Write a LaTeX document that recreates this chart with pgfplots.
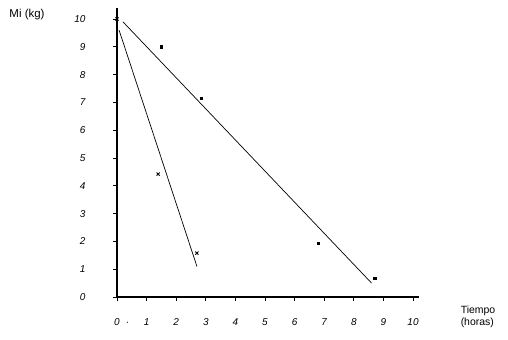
\documentclass[border=0pt]{standalone}
\usepackage{fontspec}
\setmainfont{Liberation Sans}
\usepackage{pgfplots}
\pgfplotsset{compat=1.18}
\begin{document}
\begin{tikzpicture}
\useasboundingbox (-117bp,-43bp) rectangle (391bp,297bp);
\begin{axis}[at={(0,0)}, anchor=origin, scale only axis,
  x=29.6bp, y=27.8bp, xmin=0, xmax=10.2, ymin=0, ymax=10.4,
  axis lines=left, axis line style={line width=1.8bp, -},
  xtick={0,...,10}, ytick={0,...,10},
  xticklabels={0\rlap{\hspace{6bp}·},1,2,3,4,5,6,7,8,9,10},
  tick style={black, line width=0.8bp}, tick align=outside, major tick length=4bp,
  ticklabel style={font=\itshape\fontsize{10}{10}\selectfont},
  /pgf/number format/assume math mode=true,
  yticklabel style={xshift=-24bp}, xticklabel style={yshift=-14bp},
  clip=false]
\addplot[only marks, mark=square*, mark size=1.2bp, black] coordinates {(1.5,9.0) (2.84,7.16) (6.8,1.94) (8.7,0.68)};
\addplot[black, line width=0.7bp] coordinates {(0.2,9.9) (8.6,0.5)};
\addplot[only marks, mark=x, mark size=2.2bp, black, mark options={line width=0.9bp}] coordinates {(0,10.0) (1.39,4.42) (2.7,1.58)};
\addplot[black, line width=0.7bp] coordinates {(0.07,9.6) (2.7,1.1)};
\end{axis}
\node[font=\fontsize{11.5}{12}\selectfont] at (-90bp,282bp) {Mi (kg)};
\node[font=\fontsize{10.5}{12}\selectfont, align=left] at (361bp,-20bp) {Tiempo\\(horas)};
\end{tikzpicture}
\end{document}
